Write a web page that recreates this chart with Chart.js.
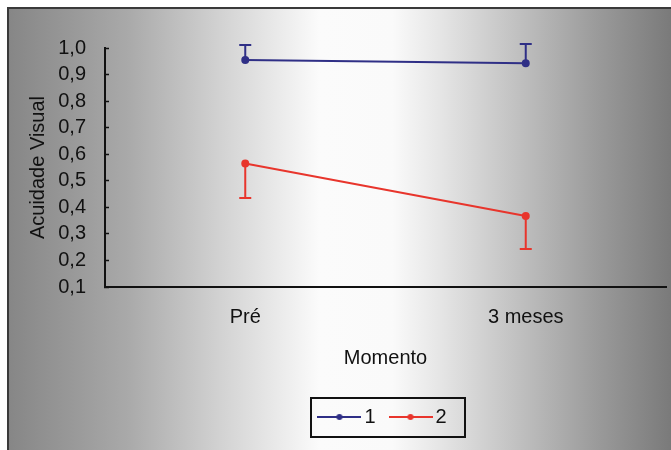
<!DOCTYPE html>
<html>
<head>
<meta charset="utf-8">
<script src="https://cdn.jsdelivr.net/npm/chart.js@4"></script>
<style>
  html, body { margin: 0; padding: 0; background: #fff; }
  #wrap { width: 671px; height: 450px; position: relative; }
</style>
</head>
<body>
<div id="wrap"><canvas id="c" width="671" height="450"></canvas></div>
<script>
// Visual acuity by moment, two groups
const categories = ['Pré', '3 meses'];
const seriesNames = ['1', '2'];
const group1 = [0.955, 0.943];
const group1ErrUp = [0.056, 0.072];
const group2 = [0.565, 0.367];
const group2ErrDown = [0.130, 0.124];
const yTickLabels = ['0,1', '0,2', '0,3', '0,4', '0,5', '0,6', '0,7', '0,8', '0,9', '1,0'];

const BLUE = '#2f2f86';
const RED = '#e8352c';
const FONT = 'Liberation Sans, Arial, sans-serif';

// legend marker: short line with a dot in the middle
function lineDotMarker(color) {
  const cv = document.createElement('canvas');
  cv.width = 44; cv.height = 8;
  const g = cv.getContext('2d');
  g.strokeStyle = color; g.lineWidth = 2;
  g.beginPath(); g.moveTo(0, 4); g.lineTo(44, 4); g.stroke();
  g.fillStyle = color;
  g.beginPath(); g.arc(22, 4, 3, 0, Math.PI * 2); g.fill();
  return cv;
}

// grey-white-grey backdrop with a dark frame on top and left
const backdrop = {
  id: 'backdrop',
  beforeDraw(chart) {
    const ctx = chart.ctx, w = chart.width, h = chart.height;
    ctx.save();
    ctx.fillStyle = '#ffffff';
    ctx.fillRect(0, 0, w, h);
    const gr = ctx.createLinearGradient(8, 0, w, 0);
    gr.addColorStop(0.00, '#868686');
    gr.addColorStop(0.18, '#a9a9a9');
    gr.addColorStop(0.32, '#d2d2d2');
    gr.addColorStop(0.40, '#e8e8e8');
    gr.addColorStop(0.47, '#fbfbfb');
    gr.addColorStop(0.58, '#fafafa');
    gr.addColorStop(0.65, '#e6e6e6');
    gr.addColorStop(0.77, '#c0c0c0');
    gr.addColorStop(0.89, '#9a9a9a');
    gr.addColorStop(1.00, '#7a7a7a');
    ctx.fillStyle = gr;
    ctx.fillRect(8, 8, w - 8, h - 8);
    ctx.fillStyle = '#3a3a3a';
    ctx.fillRect(7, 7, w - 7, 2);
    ctx.fillRect(7, 7, 2, h - 7);
    ctx.restore();
  }
};

// one-sided error bars with caps
const errorBars = {
  id: 'errorBars',
  afterDatasetsDraw(chart) {
    const ctx = chart.ctx;
    const x = chart.scales.x, y = chart.scales.y;
    const sets = [
      { vals: group1, err: group1ErrUp, sign: 1, color: BLUE },
      { vals: group2, err: group2ErrDown, sign: -1, color: RED }
    ];
    ctx.save();
    ctx.lineWidth = 2;
    sets.forEach(s => {
      ctx.strokeStyle = s.color;
      s.vals.forEach((v, i) => {
        const px = x.getPixelForValue(i);
        const py0 = y.getPixelForValue(v);
        const py1 = y.getPixelForValue(v + s.sign * s.err[i]);
        ctx.beginPath();
        ctx.moveTo(px, py0); ctx.lineTo(px, py1);
        ctx.moveTo(px - 6, py1); ctx.lineTo(px + 6, py1);
        ctx.stroke();
      });
    });
    ctx.restore();
  }
};

// frame around the legend items
const legendFrame = {
  id: 'legendFrame',
  afterDraw(chart) {
    const boxes = chart.legend && chart.legend.legendHitBoxes;
    if (!boxes || !boxes.length) return;
    let l = Infinity, r = -Infinity, cy = 0;
    boxes.forEach(bx => {
      l = Math.min(l, bx.left); r = Math.max(r, bx.left + bx.width);
      cy += bx.top + bx.height / 2;
    });
    cy /= boxes.length;
    const ctx = chart.ctx;
    ctx.save();
    ctx.strokeStyle = '#111';
    ctx.lineWidth = 2;
    const x0 = Math.round(l - 13), x1 = Math.round(r + 18);
    const y0 = Math.round(cy - 19.5), y1 = Math.round(cy + 19.5);
    ctx.strokeRect(x0, y0, x1 - x0, y1 - y0);
    ctx.restore();
  }
};

new Chart(document.getElementById('c'), {
  type: 'line',
  data: {
    labels: categories,
    datasets: [
      {
        label: seriesNames[0], data: group1,
        borderColor: BLUE, backgroundColor: BLUE, borderWidth: 2,
        pointRadius: 3, pointHoverRadius: 3, pointStyle: 'circle'
      },
      {
        label: seriesNames[1], data: group2,
        borderColor: RED, backgroundColor: RED, borderWidth: 2,
        pointRadius: 3, pointHoverRadius: 3, pointStyle: 'circle'
      }
    ]
  },
  options: {
    responsive: false,
    animation: false,
    devicePixelRatio: 1,
    layout: { padding: { left: 9, right: 4, top: 48, bottom: 13 } },
    datasets: { line: { tension: 0 } },
    plugins: {
      tooltip: { enabled: false },
      legend: {
        position: 'bottom',
        fullSize: false,
        labels: {
          usePointStyle: true,
          pointStyleWidth: 30,
          font: { family: FONT, size: 20 },
          color: '#111',
          padding: 20,
          generateLabels(chart) {
            return chart.data.datasets.map((ds, i) => ({
              text: ds.label,
              pointStyle: lineDotMarker(ds.borderColor),
              fillStyle: ds.borderColor,
              strokeStyle: ds.borderColor,
              lineWidth: 0,
              fontColor: '#111',
              datasetIndex: i
            }));
          }
        }
      }
    },
    scales: {
      x: {
        offset: true,
        afterFit(s) { s.height = 100; },
        grid: { display: true, drawOnChartArea: false, drawTicks: false },
        border: { display: true, color: '#111', width: 2 },
        ticks: { font: { family: FONT, size: 20 }, color: '#111', padding: 18 },
        title: {
          display: true, text: 'Momento',
          font: { family: FONT, size: 20 }, color: '#111',
          padding: { top: 0, bottom: 17 }
        }
      },
      y: {
        min: 0.1, max: 1.0,
        afterFit(s) { s.width = 96; },
        grid: { display: true, drawOnChartArea: false, drawTicks: true, tickLength: -4, color: '#111', tickWidth: 1.5 },
        border: { display: true, color: '#111', width: 2 },
        ticks: {
          stepSize: 0.1, autoSkip: false,
          font: { family: FONT, size: 20 }, color: '#111', padding: 23,
          callback(v, i) { return yTickLabels[i]; }
        },
        title: {
          display: true, text: 'Acuidade Visual',
          font: { family: FONT, size: 20 }, color: '#111',
          padding: { top: 17, bottom: 0 }
        }
      }
    }
  },
  plugins: [backdrop, errorBars, legendFrame]
});
</script>
</body>
</html>
